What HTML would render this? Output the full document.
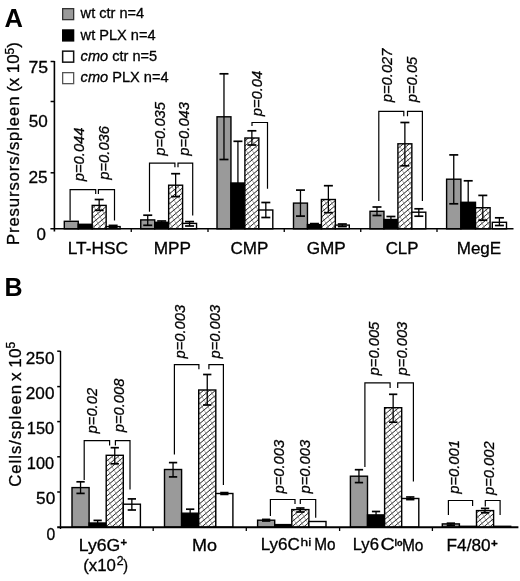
<!DOCTYPE html><html><head><meta charset="utf-8"><style>html,body{margin:0;padding:0;background:#fff;}svg{display:block;will-change:transform;}text{font-family:"Liberation Sans", sans-serif;fill:#000;stroke:#000;stroke-width:0.3px;}</style></head><body>
<svg width="520" height="581" viewBox="0 0 520 581">
<defs><pattern id="hatch" patternUnits="userSpaceOnUse" width="6" height="10"><rect width="6" height="10" fill="#fff"/><path d="M-1.2,6 L7.2,-1 M-1.2,11 L7.2,4 M-1.2,1 L1.2,-1 M4.8,11 L7.2,9" stroke="#222" stroke-width="1.0"/><path d="M-0.6,-1 L6.6,11 M-0.6,9 L0.6,11 M5.4,-1 L6.6,1" stroke="#777" stroke-width="0.6"/></pattern></defs>
<rect width="520" height="581" fill="#fff"/>
<text x="4.5" y="26.8" font-size="25.5" text-anchor="start" font-weight="bold" font-style="normal" style="stroke-width:0">A</text>
<rect x="62.65" y="8.65" width="11" height="11" fill="#9a9a9a" stroke="#333" stroke-width="1.3"/>
<text transform="translate(80.6,18.4) scale(1.02,1)" font-size="14.3">wt ctr n=4</text>
<rect x="62.65" y="29.95" width="11" height="11" fill="#000" stroke="#000" stroke-width="1.3"/>
<text transform="translate(80.6,39.5) scale(1.02,1)" font-size="14.3">wt PLX n=4</text>
<rect x="62.65" y="51.15" width="11" height="11" fill="#fff" stroke="#111" stroke-width="1.5"/>
<text transform="translate(80.6,61.0) scale(1.02,1)" font-size="14.3"><tspan font-style="italic">cmo</tspan> ctr n=5</text>
<rect x="62.65" y="72.65" width="11" height="11" fill="#fff" stroke="#555" stroke-width="1.3"/>
<text transform="translate(80.6,82.4) scale(1.02,1)" font-size="14.3"><tspan font-style="italic">cmo</tspan> PLX n=4</text>
<text transform="translate(28.52,72.8) scale(1.0442,1)" font-size="16.9">75</text>
<text transform="translate(28.71,127.4) scale(1.0144,1)" font-size="16.9">50</text>
<text transform="translate(28.44,182.8) scale(1.0210,1)" font-size="16.9">25</text>
<text transform="translate(36.52,239.6) scale(1.0037,1)" font-size="16.9">0</text>
<text transform="translate(19.1,245) rotate(-90)" font-size="16.8" textLength="148.5" lengthAdjust="spacing">Presursors/spleen</text>
<text transform="translate(19.1,91.8) rotate(-90)" font-size="16.8">(x 10<tspan font-size="12" dy="-5.5">5</tspan><tspan dy="5.5">)</tspan></text>
<rect x="64.3" y="221.3" width="13.95" height="7.5" fill="#9a9a9a" stroke="#000" stroke-width="1.4"/>
<rect x="78.25" y="224.3" width="13.95" height="4.5" fill="#000" stroke="#000" stroke-width="1.4"/>
<rect x="92.19999999999999" y="205.4" width="13.95" height="23.400000000000006" fill="url(#hatch)" stroke="#000" stroke-width="1.4"/>
<rect x="106.14999999999999" y="226.6" width="13.95" height="2.200000000000017" fill="#fff" stroke="#000" stroke-width="1.4"/>
<line x1="99.17499999999998" y1="199.5" x2="99.17499999999998" y2="210.3" stroke="#000" stroke-width="1.3"/>
<line x1="94.67499999999998" y1="199.5" x2="103.67499999999998" y2="199.5" stroke="#000" stroke-width="1.7"/>
<line x1="94.67499999999998" y1="210.3" x2="103.67499999999998" y2="210.3" stroke="#000" stroke-width="1.7"/>
<line x1="113.12499999999999" y1="225.4" x2="113.12499999999999" y2="227.6" stroke="#000" stroke-width="1.3"/>
<line x1="108.62499999999999" y1="225.4" x2="117.62499999999999" y2="225.4" stroke="#000" stroke-width="1.7"/>
<line x1="108.62499999999999" y1="227.6" x2="117.62499999999999" y2="227.6" stroke="#000" stroke-width="1.7"/>
<rect x="140.75" y="219.9" width="13.95" height="8.900000000000006" fill="#9a9a9a" stroke="#000" stroke-width="1.4"/>
<rect x="154.7" y="222.3" width="13.95" height="6.5" fill="#000" stroke="#000" stroke-width="1.4"/>
<rect x="168.65" y="185.2" width="13.95" height="43.60000000000002" fill="url(#hatch)" stroke="#000" stroke-width="1.4"/>
<rect x="182.6" y="223.4" width="13.95" height="5.400000000000006" fill="#fff" stroke="#000" stroke-width="1.4"/>
<line x1="147.725" y1="215.2" x2="147.725" y2="225.3" stroke="#000" stroke-width="1.3"/>
<line x1="143.225" y1="215.2" x2="152.225" y2="215.2" stroke="#000" stroke-width="1.7"/>
<line x1="143.225" y1="225.3" x2="152.225" y2="225.3" stroke="#000" stroke-width="1.7"/>
<line x1="161.67499999999998" y1="221" x2="161.67499999999998" y2="224" stroke="#000" stroke-width="1.3"/>
<line x1="157.17499999999998" y1="221" x2="166.17499999999998" y2="221" stroke="#000" stroke-width="1.7"/>
<line x1="157.17499999999998" y1="224" x2="166.17499999999998" y2="224" stroke="#000" stroke-width="1.7"/>
<line x1="175.625" y1="173.7" x2="175.625" y2="196.6" stroke="#000" stroke-width="1.3"/>
<line x1="171.125" y1="173.7" x2="180.125" y2="173.7" stroke="#000" stroke-width="1.7"/>
<line x1="171.125" y1="196.6" x2="180.125" y2="196.6" stroke="#000" stroke-width="1.7"/>
<line x1="189.575" y1="221.6" x2="189.575" y2="226" stroke="#000" stroke-width="1.3"/>
<line x1="185.075" y1="221.6" x2="194.075" y2="221.6" stroke="#000" stroke-width="1.7"/>
<line x1="185.075" y1="226" x2="194.075" y2="226" stroke="#000" stroke-width="1.7"/>
<rect x="217.0" y="116.8" width="13.95" height="112.00000000000001" fill="#9a9a9a" stroke="#000" stroke-width="1.4"/>
<rect x="230.95" y="183" width="13.95" height="45.80000000000001" fill="#000" stroke="#000" stroke-width="1.4"/>
<rect x="244.9" y="138" width="13.95" height="90.80000000000001" fill="url(#hatch)" stroke="#000" stroke-width="1.4"/>
<rect x="258.85" y="210" width="13.95" height="18.80000000000001" fill="#fff" stroke="#000" stroke-width="1.4"/>
<line x1="223.975" y1="73.8" x2="223.975" y2="159.5" stroke="#000" stroke-width="1.3"/>
<line x1="219.475" y1="73.8" x2="228.475" y2="73.8" stroke="#000" stroke-width="1.7"/>
<line x1="219.475" y1="159.5" x2="228.475" y2="159.5" stroke="#000" stroke-width="1.7"/>
<line x1="237.92499999999998" y1="141.3" x2="237.92499999999998" y2="224" stroke="#000" stroke-width="1.3"/>
<line x1="233.42499999999998" y1="141.3" x2="242.42499999999998" y2="141.3" stroke="#000" stroke-width="1.7"/>
<line x1="233.42499999999998" y1="224" x2="242.42499999999998" y2="224" stroke="#000" stroke-width="1.7"/>
<line x1="251.875" y1="130.8" x2="251.875" y2="145" stroke="#000" stroke-width="1.3"/>
<line x1="247.375" y1="130.8" x2="256.375" y2="130.8" stroke="#000" stroke-width="1.7"/>
<line x1="247.375" y1="145" x2="256.375" y2="145" stroke="#000" stroke-width="1.7"/>
<line x1="265.82500000000005" y1="202.5" x2="265.82500000000005" y2="217.5" stroke="#000" stroke-width="1.3"/>
<line x1="261.32500000000005" y1="202.5" x2="270.32500000000005" y2="202.5" stroke="#000" stroke-width="1.7"/>
<line x1="261.32500000000005" y1="217.5" x2="270.32500000000005" y2="217.5" stroke="#000" stroke-width="1.7"/>
<rect x="293.5" y="203.1" width="13.95" height="25.700000000000017" fill="#9a9a9a" stroke="#000" stroke-width="1.4"/>
<rect x="307.45" y="224.6" width="13.95" height="4.200000000000017" fill="#000" stroke="#000" stroke-width="1.4"/>
<rect x="321.4" y="199.5" width="13.95" height="29.30000000000001" fill="url(#hatch)" stroke="#000" stroke-width="1.4"/>
<rect x="335.35" y="225.1" width="13.95" height="3.700000000000017" fill="#fff" stroke="#000" stroke-width="1.4"/>
<line x1="300.475" y1="190.1" x2="300.475" y2="216.1" stroke="#000" stroke-width="1.3"/>
<line x1="295.975" y1="190.1" x2="304.975" y2="190.1" stroke="#000" stroke-width="1.7"/>
<line x1="295.975" y1="216.1" x2="304.975" y2="216.1" stroke="#000" stroke-width="1.7"/>
<line x1="314.425" y1="223.6" x2="314.425" y2="226.2" stroke="#000" stroke-width="1.3"/>
<line x1="309.925" y1="223.6" x2="318.925" y2="223.6" stroke="#000" stroke-width="1.7"/>
<line x1="309.925" y1="226.2" x2="318.925" y2="226.2" stroke="#000" stroke-width="1.7"/>
<line x1="328.375" y1="185.7" x2="328.375" y2="212.7" stroke="#000" stroke-width="1.3"/>
<line x1="323.875" y1="185.7" x2="332.875" y2="185.7" stroke="#000" stroke-width="1.7"/>
<line x1="323.875" y1="212.7" x2="332.875" y2="212.7" stroke="#000" stroke-width="1.7"/>
<line x1="342.32500000000005" y1="224" x2="342.32500000000005" y2="226.6" stroke="#000" stroke-width="1.3"/>
<line x1="337.82500000000005" y1="224" x2="346.82500000000005" y2="224" stroke="#000" stroke-width="1.7"/>
<line x1="337.82500000000005" y1="226.6" x2="346.82500000000005" y2="226.6" stroke="#000" stroke-width="1.7"/>
<rect x="370.0" y="211.3" width="13.95" height="17.5" fill="#9a9a9a" stroke="#000" stroke-width="1.4"/>
<rect x="383.95" y="219.5" width="13.95" height="9.300000000000011" fill="#000" stroke="#000" stroke-width="1.4"/>
<rect x="397.9" y="143.8" width="13.95" height="85.0" fill="url(#hatch)" stroke="#000" stroke-width="1.4"/>
<rect x="411.85" y="212.2" width="13.95" height="16.600000000000023" fill="#fff" stroke="#000" stroke-width="1.4"/>
<line x1="376.975" y1="207" x2="376.975" y2="215.5" stroke="#000" stroke-width="1.3"/>
<line x1="372.475" y1="207" x2="381.475" y2="207" stroke="#000" stroke-width="1.7"/>
<line x1="372.475" y1="215.5" x2="381.475" y2="215.5" stroke="#000" stroke-width="1.7"/>
<line x1="390.925" y1="216.5" x2="390.925" y2="222.5" stroke="#000" stroke-width="1.3"/>
<line x1="386.425" y1="216.5" x2="395.425" y2="216.5" stroke="#000" stroke-width="1.7"/>
<line x1="386.425" y1="222.5" x2="395.425" y2="222.5" stroke="#000" stroke-width="1.7"/>
<line x1="404.875" y1="122.5" x2="404.875" y2="165.8" stroke="#000" stroke-width="1.3"/>
<line x1="400.375" y1="122.5" x2="409.375" y2="122.5" stroke="#000" stroke-width="1.7"/>
<line x1="400.375" y1="165.8" x2="409.375" y2="165.8" stroke="#000" stroke-width="1.7"/>
<line x1="418.82500000000005" y1="208.8" x2="418.82500000000005" y2="216.2" stroke="#000" stroke-width="1.3"/>
<line x1="414.32500000000005" y1="208.8" x2="423.32500000000005" y2="208.8" stroke="#000" stroke-width="1.7"/>
<line x1="414.32500000000005" y1="216.2" x2="423.32500000000005" y2="216.2" stroke="#000" stroke-width="1.7"/>
<rect x="446.6" y="179.2" width="14.3" height="49.60000000000002" fill="#9a9a9a" stroke="#000" stroke-width="1.4"/>
<rect x="460.9" y="202.3" width="14.6" height="26.5" fill="#000" stroke="#000" stroke-width="1.4"/>
<rect x="475.5" y="207.7" width="14.6" height="21.100000000000023" fill="url(#hatch)" stroke="#000" stroke-width="1.4"/>
<rect x="492.3" y="222.3" width="14.2" height="6.5" fill="#fff" stroke="#000" stroke-width="1.4"/>
<line x1="453.75" y1="154.9" x2="453.75" y2="203.8" stroke="#000" stroke-width="1.3"/>
<line x1="449.25" y1="154.9" x2="458.25" y2="154.9" stroke="#000" stroke-width="1.7"/>
<line x1="449.25" y1="203.8" x2="458.25" y2="203.8" stroke="#000" stroke-width="1.7"/>
<line x1="468.2" y1="180.8" x2="468.2" y2="222.6" stroke="#000" stroke-width="1.3"/>
<line x1="463.7" y1="180.8" x2="472.7" y2="180.8" stroke="#000" stroke-width="1.7"/>
<line x1="463.7" y1="222.6" x2="472.7" y2="222.6" stroke="#000" stroke-width="1.7"/>
<line x1="482.8" y1="195.4" x2="482.8" y2="220.2" stroke="#000" stroke-width="1.3"/>
<line x1="478.3" y1="195.4" x2="487.3" y2="195.4" stroke="#000" stroke-width="1.7"/>
<line x1="478.3" y1="220.2" x2="487.3" y2="220.2" stroke="#000" stroke-width="1.7"/>
<line x1="499.40000000000003" y1="217.8" x2="499.40000000000003" y2="225.5" stroke="#000" stroke-width="1.3"/>
<line x1="494.90000000000003" y1="217.8" x2="503.90000000000003" y2="217.8" stroke="#000" stroke-width="1.7"/>
<line x1="494.90000000000003" y1="225.5" x2="503.90000000000003" y2="225.5" stroke="#000" stroke-width="1.7"/>
<line x1="54.4" y1="61" x2="54.4" y2="231.5" stroke="#000" stroke-width="1.6"/>
<line x1="50.6" y1="61.5" x2="54.4" y2="61.5" stroke="#000" stroke-width="1.5"/>
<line x1="50.6" y1="101.5" x2="54.4" y2="101.5" stroke="#000" stroke-width="1.5"/>
<line x1="50.6" y1="172.8" x2="54.4" y2="172.8" stroke="#000" stroke-width="1.5"/>
<line x1="50.4" y1="228.8" x2="513.5" y2="228.8" stroke="#000" stroke-width="1.6"/>
<line x1="131.25" y1="228.8" x2="131.25" y2="232" stroke="#000" stroke-width="1.3"/>
<line x1="208" y1="228.8" x2="208" y2="232" stroke="#000" stroke-width="1.3"/>
<line x1="284.25" y1="228.8" x2="284.25" y2="232" stroke="#000" stroke-width="1.3"/>
<line x1="360.75" y1="228.8" x2="360.75" y2="232" stroke="#000" stroke-width="1.3"/>
<line x1="437" y1="228.8" x2="437" y2="232" stroke="#000" stroke-width="1.3"/>
<text transform="translate(67.77,254.0) scale(1.0445,1)" font-size="16.6">LT-HSC</text>
<text transform="translate(153.68,254.0) scale(1.0374,1)" font-size="16.6">MPP</text>
<text transform="translate(230.45,254.0) scale(1.0286,1)" font-size="16.6">CMP</text>
<text transform="translate(306.64,254.0) scale(1.0359,1)" font-size="16.6">GMP</text>
<text transform="translate(385.66,254.0) scale(1.0168,1)" font-size="16.6">CLP</text>
<text transform="translate(456.69,254.0) scale(1.0268,1)" font-size="16.6">MegE</text>
<path d="M70.1,220.4 L70.1,189.6 L95.7,189.6 L95.7,194.1" fill="none" stroke="#000" stroke-width="1.2"/>
<path d="M98.4,194.1 L98.4,189.6 L114.5,189.6 L114.5,220.4" fill="none" stroke="#000" stroke-width="1.2"/>
<path d="M149.5,211.8 L149.5,163.1 L174.9,163.1 L174.9,167.2" fill="none" stroke="#000" stroke-width="1.2"/>
<path d="M178,167.2 L178,163.1 L192.7,163.1 L192.7,215.5" fill="none" stroke="#000" stroke-width="1.2"/>
<path d="M252,126 L252,122.5 L267.5,122.5 L267.5,188.8" fill="none" stroke="#000" stroke-width="1.2"/>
<path d="M378.8,201 L378.8,111.3 L403.8,111.3 L403.8,116.3" fill="none" stroke="#000" stroke-width="1.2"/>
<path d="M407.5,116.3 L407.5,111.3 L422.4,111.3 L422.4,201" fill="none" stroke="#000" stroke-width="1.2"/>
<text transform="translate(83.50,181.2) rotate(-90) scale(0.97,1)" font-size="15.2" font-style="italic">p=0.044</text>
<text transform="translate(108.70,179.7) rotate(-90) scale(0.97,1)" font-size="15.2" font-style="italic">p=0.036</text>
<text transform="translate(165.40,155.7) rotate(-90) scale(0.97,1)" font-size="15.2" font-style="italic">p=0.035</text>
<text transform="translate(188.60,155.7) rotate(-90) scale(0.97,1)" font-size="15.2" font-style="italic">p=0.043</text>
<text transform="translate(262.00,116.3) rotate(-90) scale(0.97,1)" font-size="15.2" font-style="italic">p=0.04</text>
<text transform="translate(391.50,102.2) rotate(-90) scale(0.97,1)" font-size="15.2" font-style="italic">p=0.027</text>
<text transform="translate(416.90,102.2) rotate(-90) scale(0.97,1)" font-size="15.2" font-style="italic">p=0.05</text>
<text x="4.5" y="295.9" font-size="25.0" text-anchor="start" font-weight="bold" font-style="normal" style="stroke-width:0">B</text>
<text transform="translate(25.84,363.8) scale(1.0332,1)" font-size="16.6">250</text>
<text transform="translate(25.84,399.1) scale(1.0332,1)" font-size="16.6">200</text>
<text transform="translate(26.77,434.3) scale(0.9879,1)" font-size="16.6">150</text>
<text transform="translate(26.77,469.3) scale(0.9879,1)" font-size="16.6">100</text>
<text transform="translate(36.11,504.3) scale(1.0385,1)" font-size="16.6">50</text>
<text transform="translate(46.47,539.8) scale(0.9462,1)" font-size="16.6">0</text>
<text transform="translate(20.5,486.8) rotate(-90)" font-size="16.8" textLength="102" lengthAdjust="spacing">Cells/spleen</text>
<text transform="translate(20.5,381) rotate(-90)" font-size="17.2">x 10<tspan font-size="12" dy="-5.5">5</tspan></text>
<rect x="72.0" y="487.6" width="17.1" height="39.60000000000002" fill="#9a9a9a" stroke="#000" stroke-width="1.4"/>
<rect x="89.1" y="523" width="17.1" height="4.2000000000000455" fill="#000" stroke="#000" stroke-width="1.4"/>
<rect x="106.2" y="455.3" width="17.1" height="71.90000000000003" fill="url(#hatch)" stroke="#000" stroke-width="1.4"/>
<rect x="123.30000000000001" y="504.2" width="17.1" height="23.000000000000057" fill="#fff" stroke="#000" stroke-width="1.4"/>
<line x1="80.55" y1="481.8" x2="80.55" y2="493.4" stroke="#000" stroke-width="1.3"/>
<line x1="76.39999999999999" y1="481.8" x2="84.7" y2="481.8" stroke="#000" stroke-width="1.7"/>
<line x1="76.39999999999999" y1="493.4" x2="84.7" y2="493.4" stroke="#000" stroke-width="1.7"/>
<line x1="97.64999999999999" y1="520.4" x2="97.64999999999999" y2="524.5" stroke="#000" stroke-width="1.3"/>
<line x1="93.49999999999999" y1="520.4" x2="101.8" y2="520.4" stroke="#000" stroke-width="1.7"/>
<line x1="93.49999999999999" y1="524.5" x2="101.8" y2="524.5" stroke="#000" stroke-width="1.7"/>
<line x1="114.75" y1="447.7" x2="114.75" y2="463.8" stroke="#000" stroke-width="1.3"/>
<line x1="110.6" y1="447.7" x2="118.9" y2="447.7" stroke="#000" stroke-width="1.7"/>
<line x1="110.6" y1="463.8" x2="118.9" y2="463.8" stroke="#000" stroke-width="1.7"/>
<line x1="131.85000000000002" y1="498.9" x2="131.85000000000002" y2="510" stroke="#000" stroke-width="1.3"/>
<line x1="127.70000000000002" y1="498.9" x2="136.00000000000003" y2="498.9" stroke="#000" stroke-width="1.7"/>
<line x1="127.70000000000002" y1="510" x2="136.00000000000003" y2="510" stroke="#000" stroke-width="1.7"/>
<rect x="164.5" y="469.5" width="17.1" height="57.700000000000045" fill="#9a9a9a" stroke="#000" stroke-width="1.4"/>
<rect x="181.6" y="513.2" width="17.1" height="14.0" fill="#000" stroke="#000" stroke-width="1.4"/>
<rect x="198.7" y="390" width="17.1" height="137.20000000000005" fill="url(#hatch)" stroke="#000" stroke-width="1.4"/>
<rect x="215.8" y="493.5" width="17.1" height="33.700000000000045" fill="#fff" stroke="#000" stroke-width="1.4"/>
<line x1="173.05" y1="462.6" x2="173.05" y2="476.9" stroke="#000" stroke-width="1.3"/>
<line x1="168.9" y1="462.6" x2="177.20000000000002" y2="462.6" stroke="#000" stroke-width="1.7"/>
<line x1="168.9" y1="476.9" x2="177.20000000000002" y2="476.9" stroke="#000" stroke-width="1.7"/>
<line x1="190.15" y1="509.2" x2="190.15" y2="517" stroke="#000" stroke-width="1.3"/>
<line x1="186.0" y1="509.2" x2="194.3" y2="509.2" stroke="#000" stroke-width="1.7"/>
<line x1="186.0" y1="517" x2="194.3" y2="517" stroke="#000" stroke-width="1.7"/>
<line x1="207.25" y1="374.5" x2="207.25" y2="405" stroke="#000" stroke-width="1.3"/>
<line x1="203.1" y1="374.5" x2="211.4" y2="374.5" stroke="#000" stroke-width="1.7"/>
<line x1="203.1" y1="405" x2="211.4" y2="405" stroke="#000" stroke-width="1.7"/>
<line x1="224.35000000000002" y1="492.6" x2="224.35000000000002" y2="494.4" stroke="#000" stroke-width="1.3"/>
<line x1="220.20000000000002" y1="492.6" x2="228.50000000000003" y2="492.6" stroke="#000" stroke-width="1.7"/>
<line x1="220.20000000000002" y1="494.4" x2="228.50000000000003" y2="494.4" stroke="#000" stroke-width="1.7"/>
<rect x="257.6" y="520.2" width="17.1" height="7.0" fill="#9a9a9a" stroke="#000" stroke-width="1.4"/>
<rect x="274.70000000000005" y="524.6" width="17.1" height="2.6000000000000227" fill="#000" stroke="#000" stroke-width="1.4"/>
<rect x="291.8" y="509.6" width="17.1" height="17.600000000000023" fill="url(#hatch)" stroke="#000" stroke-width="1.4"/>
<rect x="308.90000000000003" y="521.5" width="17.1" height="5.7000000000000455" fill="#fff" stroke="#000" stroke-width="1.4"/>
<line x1="266.15000000000003" y1="519.4" x2="266.15000000000003" y2="521" stroke="#000" stroke-width="1.3"/>
<line x1="262.00000000000006" y1="519.4" x2="270.3" y2="519.4" stroke="#000" stroke-width="1.7"/>
<line x1="262.00000000000006" y1="521" x2="270.3" y2="521" stroke="#000" stroke-width="1.7"/>
<line x1="300.35" y1="508" x2="300.35" y2="512" stroke="#000" stroke-width="1.3"/>
<line x1="296.20000000000005" y1="508" x2="304.5" y2="508" stroke="#000" stroke-width="1.7"/>
<line x1="296.20000000000005" y1="512" x2="304.5" y2="512" stroke="#000" stroke-width="1.7"/>
<rect x="350.4" y="476.2" width="17.1" height="51.00000000000006" fill="#9a9a9a" stroke="#000" stroke-width="1.4"/>
<rect x="367.5" y="514.9" width="17.1" height="12.300000000000068" fill="#000" stroke="#000" stroke-width="1.4"/>
<rect x="384.59999999999997" y="407.7" width="17.1" height="119.50000000000006" fill="url(#hatch)" stroke="#000" stroke-width="1.4"/>
<rect x="401.7" y="498.5" width="17.1" height="28.700000000000045" fill="#fff" stroke="#000" stroke-width="1.4"/>
<line x1="358.95" y1="469.7" x2="358.95" y2="482.6" stroke="#000" stroke-width="1.3"/>
<line x1="354.8" y1="469.7" x2="363.09999999999997" y2="469.7" stroke="#000" stroke-width="1.7"/>
<line x1="354.8" y1="482.6" x2="363.09999999999997" y2="482.6" stroke="#000" stroke-width="1.7"/>
<line x1="376.05" y1="511.5" x2="376.05" y2="518.3" stroke="#000" stroke-width="1.3"/>
<line x1="371.90000000000003" y1="511.5" x2="380.2" y2="511.5" stroke="#000" stroke-width="1.7"/>
<line x1="371.90000000000003" y1="518.3" x2="380.2" y2="518.3" stroke="#000" stroke-width="1.7"/>
<line x1="393.15" y1="394.3" x2="393.15" y2="422.2" stroke="#000" stroke-width="1.3"/>
<line x1="389.0" y1="394.3" x2="397.29999999999995" y2="394.3" stroke="#000" stroke-width="1.7"/>
<line x1="389.0" y1="422.2" x2="397.29999999999995" y2="422.2" stroke="#000" stroke-width="1.7"/>
<line x1="410.25" y1="497.0" x2="410.25" y2="499.6" stroke="#000" stroke-width="1.3"/>
<line x1="406.1" y1="497.0" x2="414.4" y2="497.0" stroke="#000" stroke-width="1.7"/>
<line x1="406.1" y1="499.6" x2="414.4" y2="499.6" stroke="#000" stroke-width="1.7"/>
<rect x="442.3" y="523.9" width="17.1" height="3.300000000000068" fill="#9a9a9a" stroke="#000" stroke-width="1.4"/>
<rect x="459.40000000000003" y="526.3" width="17.1" height="0.900000000000091" fill="#000" stroke="#000" stroke-width="1.4"/>
<rect x="476.5" y="510.6" width="17.1" height="16.600000000000023" fill="url(#hatch)" stroke="#000" stroke-width="1.4"/>
<rect x="493.6" y="526.3" width="17.1" height="0.900000000000091" fill="#fff" stroke="#000" stroke-width="1.4"/>
<line x1="450.85" y1="523.2" x2="450.85" y2="525.2" stroke="#000" stroke-width="1.3"/>
<line x1="446.70000000000005" y1="523.2" x2="455.0" y2="523.2" stroke="#000" stroke-width="1.7"/>
<line x1="446.70000000000005" y1="525.2" x2="455.0" y2="525.2" stroke="#000" stroke-width="1.7"/>
<line x1="485.05" y1="508.4" x2="485.05" y2="512.8" stroke="#000" stroke-width="1.3"/>
<line x1="480.90000000000003" y1="508.4" x2="489.2" y2="508.4" stroke="#000" stroke-width="1.7"/>
<line x1="480.90000000000003" y1="512.8" x2="489.2" y2="512.8" stroke="#000" stroke-width="1.7"/>
<line x1="60.5" y1="351" x2="60.5" y2="529" stroke="#000" stroke-width="1.4"/>
<line x1="57.2" y1="351.2" x2="60.5" y2="351.2" stroke="#000" stroke-width="1.5"/>
<line x1="57.2" y1="386.6" x2="60.5" y2="386.6" stroke="#000" stroke-width="1.5"/>
<line x1="57.2" y1="421.6" x2="60.5" y2="421.6" stroke="#000" stroke-width="1.5"/>
<line x1="57.2" y1="456.8" x2="60.5" y2="456.8" stroke="#000" stroke-width="1.5"/>
<line x1="57.2" y1="492" x2="60.5" y2="492" stroke="#000" stroke-width="1.5"/>
<line x1="57.2" y1="527.2" x2="518.4" y2="527.2" stroke="#000" stroke-width="1.9"/>
<line x1="153.2" y1="527.2" x2="153.2" y2="531" stroke="#000" stroke-width="1.3"/>
<line x1="246.3" y1="527.2" x2="246.3" y2="531" stroke="#000" stroke-width="1.3"/>
<line x1="339.6" y1="527.2" x2="339.6" y2="531" stroke="#000" stroke-width="1.3"/>
<line x1="432.4" y1="527.2" x2="432.4" y2="531" stroke="#000" stroke-width="1.3"/>
<path d="M84.2,479.9 L84.2,440.7 L109.6,440.7 L109.6,445.4" fill="none" stroke="#000" stroke-width="1.2"/>
<path d="M115.4,445.4 L115.4,440.7 L130,440.7 L130,489.4" fill="none" stroke="#000" stroke-width="1.2"/>
<path d="M174.4,454.6 L174.4,364.6 L198.9,364.6 L198.9,369.2" fill="none" stroke="#000" stroke-width="1.2"/>
<path d="M208.9,369.2 L208.9,364.6 L223.4,364.6 L223.4,485" fill="none" stroke="#000" stroke-width="1.2"/>
<path d="M270.4,516 L270.4,499.5 L295,499.5 L295,503.9" fill="none" stroke="#000" stroke-width="1.2"/>
<path d="M300.3,503.9 L300.3,499.5 L315.7,499.5 L315.7,517.8" fill="none" stroke="#000" stroke-width="1.2"/>
<path d="M364.9,467 L364.9,382.8 L390.1,382.8 L390.1,388" fill="none" stroke="#000" stroke-width="1.2"/>
<path d="M397.7,388 L397.7,382.8 L413.4,382.8 L413.4,481.5" fill="none" stroke="#000" stroke-width="1.2"/>
<path d="M448.4,515 L448.4,500.5 L472.6,500.5 L472.6,506" fill="none" stroke="#000" stroke-width="1.2"/>
<path d="M485.3,506.5 L485.3,500.5 L500.1,500.5 L500.1,515" fill="none" stroke="#000" stroke-width="1.2"/>
<text transform="translate(97.20,433.4) rotate(-90) scale(0.97,1)" font-size="15.2" font-style="italic">p=0.02</text>
<text transform="translate(124.20,432.3) rotate(-90) scale(0.97,1)" font-size="15.2" font-style="italic">p=0.008</text>
<text transform="translate(184.80,358.5) rotate(-90) scale(0.97,1)" font-size="15.2" font-style="italic">p=0.003</text>
<text transform="translate(220.20,358.5) rotate(-90) scale(0.97,1)" font-size="15.2" font-style="italic">p=0.003</text>
<text transform="translate(283.70,493.5) rotate(-90) scale(0.97,1)" font-size="15.2" font-style="italic">p=0.003</text>
<text transform="translate(310.20,493.5) rotate(-90) scale(0.97,1)" font-size="15.2" font-style="italic">p=0.003</text>
<text transform="translate(378.70,375.4) rotate(-90) scale(0.97,1)" font-size="15.2" font-style="italic">p=0.005</text>
<text transform="translate(406.70,375.4) rotate(-90) scale(0.97,1)" font-size="15.2" font-style="italic">p=0.003</text>
<text transform="translate(459.20,493.8) rotate(-90) scale(0.97,1)" font-size="15.2" font-style="italic">p=0.001</text>
<text transform="translate(493.90,495) rotate(-90) scale(0.97,1)" font-size="15.2" font-style="italic">p=0.002</text>
<text transform="translate(78.85,550.7) scale(1.0621,1)" font-size="16.6">Ly6G</text>
<text transform="translate(120.42,546.0) scale(1.0182,1)" font-size="11.0" font-weight="bold">+</text>
<text transform="translate(83.25,571.0) scale(1.0122,1)" font-size="16.6">(x10</text>
<text transform="translate(116.68,565.2) scale(1.0256,1)" font-size="12.0">2</text>
<text transform="translate(123.19,571.0) scale(0.8638,1)" font-size="16.6">)</text>
<text transform="translate(191.91,550.5) scale(1.0858,1)" font-size="16.6">Mo</text>
<text transform="translate(260.69,550.3) scale(1.0291,1)" font-size="16.6">Ly6C</text>
<text transform="translate(300.54,545.6) scale(1.2972,1)" font-size="10.6">hi</text>
<text transform="translate(314.23,550.3) scale(0.9239,1)" font-size="16.6">Mo</text>
<text transform="translate(352.72,550.3) scale(1.0054,1)" font-size="16.6">Ly6</text>
<text transform="translate(380.52,550.3) scale(1.1858,1)" font-size="16.6">C</text>
<text transform="translate(394.56,545.6) scale(0.9684,1)" font-size="9.4" font-weight="bold">lo</text>
<text transform="translate(401.92,550.6) scale(0.9334,1)" font-size="16.6">Mo</text>
<text transform="translate(446.58,550.5) scale(1.0366,1)" font-size="16.6">F4/80</text>
<text transform="translate(491.11,546.6) scale(1.0545,1)" font-size="11.0" font-weight="bold">+</text>
</svg></body></html>
